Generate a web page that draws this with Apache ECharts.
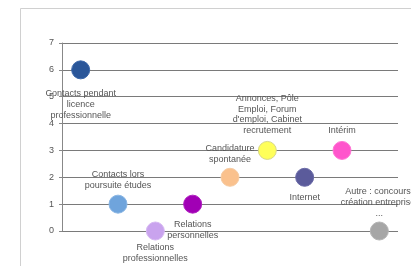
<!DOCTYPE html>
<html><head><meta charset="utf-8">
<script src="https://cdn.jsdelivr.net/npm/echarts@6/dist/echarts.min.js"></script>
<style>html,body{margin:0;padding:0;background:#fff}#c{width:411px;height:266px}</style>
</head><body><div id="c"></div>
<script>
var categories = [
  "Contacts pendant\nlicence\nprofessionnelle",
  "Contacts lors\npoursuite études",
  "Relations\nprofessionnelles",
  "Relations\npersonnelles",
  "Candidature\nspontanée",
  "Annonces, Pôle\nEmploi, Forum\nd'emploi, Cabinet\nrecrutement",
  "Internet",
  "Intérim",
  "Autre : concours,\ncréation entreprise,\n..."
];
var values = [6, 1, 0, 1, 2, 3, 2, 3, 0];
var yTicks = [0, 1, 2, 3, 4, 5, 6, 7];

var colors = ["#2A5699","#6FA4DC","#C9A3EE","#A100B5","#FAC18D","#FFFF5A","#5B5B9B","#FF55CC","#A6A6A6"];
var borders = ["#3A66A9","#8AB6E4","#D6B8F2","#B020C0","#F6CCA4","#D8D88A","#6B6BA8","#FF77D6","#B4B4B4"];
var labelStyle = [
  {position:"bottom", distance:9, offset:[0,0]},
  {position:"top", distance:4, offset:[-1,0]},
  {position:"bottom", distance:2, offset:[0,0]},
  {position:"bottom", distance:6, offset:[7,0]},
  {position:"top", distance:3, offset:[-5,0]},
  {position:"top", distance:5, offset:[-1,0]},
  {position:"bottom", distance:5, offset:[-2,0]},
  {position:"top", distance:5, offset:[0,0]},
  {position:"top", distance:3, offset:[8,0]}
];

var chart = echarts.init(document.getElementById('c'), null, {renderer:'canvas'});
var data = values.map(function(v,i){
  return {
    value: v,
    itemStyle: {color: colors[i], borderColor: borders[i], borderWidth: 1, opacity: 1},
    label: {show:true, position: labelStyle[i].position, distance: labelStyle[i].distance,
            offset: labelStyle[i].offset, formatter: categories[i]}
  };
});
chart.setOption({
  animation:false,
  backgroundColor:'#fff',
  graphic:[{type:'rect', shape:{x:20.5,y:8.5,width:500,height:300}, style:{fill:'none', stroke:'#d0d0d0', lineWidth:1}, silent:true}],
  grid:{left:62, right:13, top:43, bottom:35, containLabel:false},
  xAxis:{type:'category', data:categories, boundaryGap:true,
    axisLine:{show:false}, axisTick:{show:false}, axisLabel:{show:false}, splitLine:{show:false}},
  yAxis:{type:'value', min:0, max:7, interval:1,
    axisLine:{show:true, lineStyle:{color:'#888', width:1}},
    axisTick:{show:true, length:3, lineStyle:{color:'#888'}},
    axisLabel:{color:'#555', fontSize:9, fontFamily:'Liberation Sans, Arial', margin:8,
      formatter:function(v){ return yTicks.indexOf(v) >= 0 ? String(v) : ''; }},
    splitLine:{show:true, lineStyle:{color:'#7a7a7a', width:1}}},
  series:[{type:'scatter', symbol:'circle', symbolSize:18, data:data,
    itemStyle:{opacity:1},
    emphasis:{disabled:true},
    label:{color:'#555', fontSize:9, fontFamily:'Liberation Sans, Arial', lineHeight:10.7, align:'center'},
    labelLayout:{hideOverlap:false}, clip:false}]
});
</script></body></html>
